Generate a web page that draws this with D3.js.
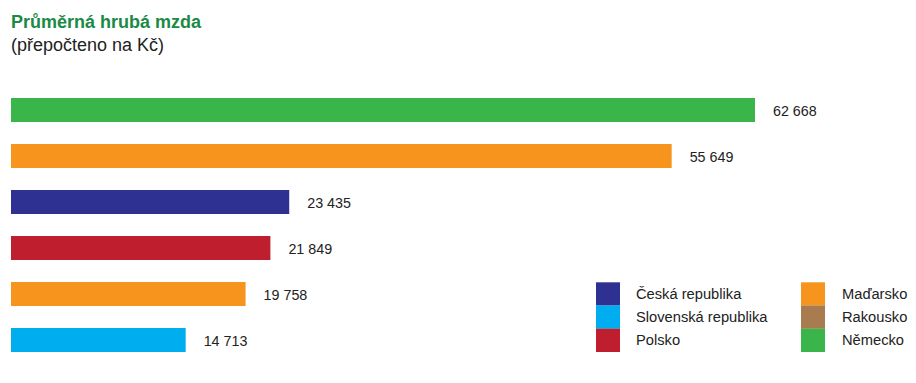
<!DOCTYPE html>
<html><head><meta charset="utf-8">
<script src="https://cdn.jsdelivr.net/npm/d3@7"></script>
<style>body{margin:0;background:#fff}svg{display:block;font-family:"Liberation Sans",Arial,sans-serif}</style>
</head><body><div id="c"></div>
<script>
const countries = ["Německo","Rakousko","Česká republika","Polsko","Maďarsko","Slovenská republika"];
const wages = [62668, 55649, 23435, 21849, 19758, 14713];
const barColors = ["#3ab54a","#f7941d","#2e3192","#be1e2d","#f7941d","#00aeef"];
const legendLeft = ["Česká republika","Slovenská republika","Polsko"];
const legendLeftColors = ["#2e3192","#00aeef","#be1e2d"];
const legendRight = ["Maďarsko","Rakousko","Německo"];
const legendRightColors = ["#f7941d","#a97c50","#3ab54a"];

const W = 916, H = 383;
const svg = d3.select("#c").append("svg").attr("width", W).attr("height", H);

svg.append("text").attr("x", 11).attr("y", 28).attr("font-size", 18).attr("font-weight", "bold")
  .attr("fill", "#1b8a45").text("Průměrná hrubá mzda");
svg.append("text").attr("x", 11).attr("y", 51).attr("font-size", 18).attr("fill", "#222")
  .text("(přepočteno na Kč)");

const x = d3.scaleLinear().domain([0, d3.max(wages)]).range([11, 755]);
const yb = d3.scaleBand().domain(d3.range(countries.length)).range([87, 87 + 46*6]).paddingInner(22/46).paddingOuter(11/46);

const g = svg.append("g");
g.selectAll("rect").data(wages).join("rect")
  .attr("x", x(0)).attr("y", (d,i)=>yb(i)).attr("width", d=>x(d)-x(0)).attr("height", yb.bandwidth())
  .attr("fill", (d,i)=>barColors[i]);
const fmt = d => d3.format(",")(d).replace(/,/g, " ");
g.selectAll("text").data(wages).join("text")
  .attr("x", d=>x(d)+18).attr("y", (d,i)=>yb(i)+yb.bandwidth()/2+6)
  .attr("font-size", 14.3).attr("fill", "#222").text(fmt);

function legend(items, colors, sx, tx) {
  const lg = svg.append("g");
  items.forEach((t,i)=>{
    lg.append("rect").attr("x", sx).attr("y", 282.3 + i*23.2).attr("width", 24).attr("height", 23.3).attr("fill", colors[i]);
    lg.append("text").attr("x", tx).attr("y", 282.3 + i*23.2 + 16.5).attr("font-size", 14.7).attr("fill", "#222").text(t);
  });
}
legend(legendLeft, legendLeftColors, 596, 636);
legend(legendRight, legendRightColors, 801, 842);
</script></body></html>
